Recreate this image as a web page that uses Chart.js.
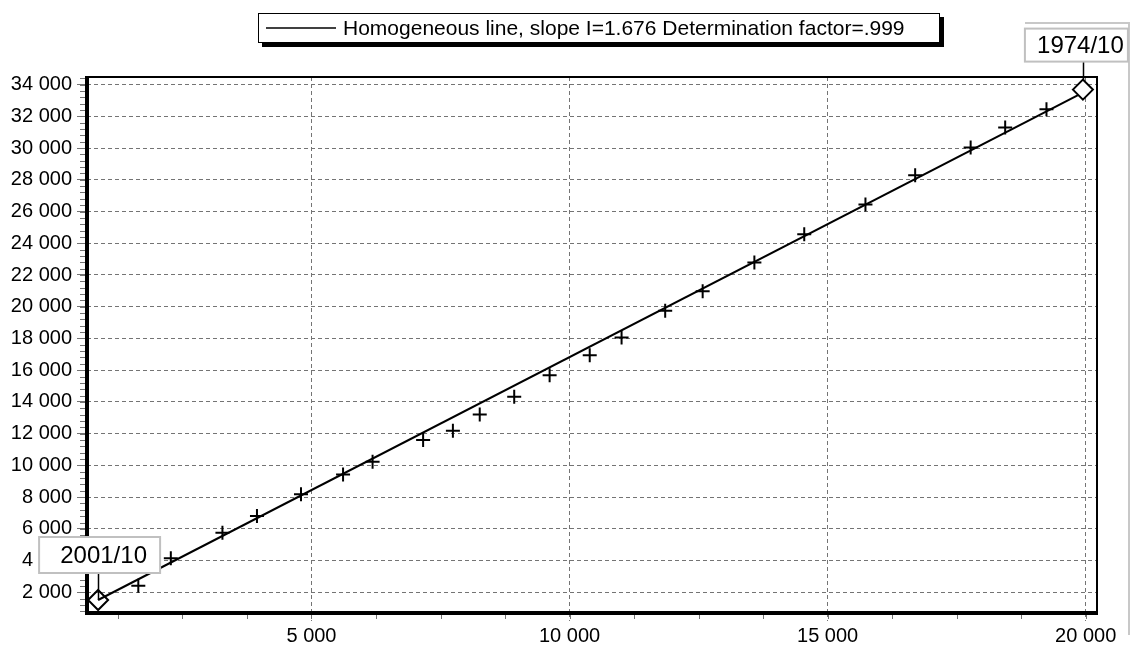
<!DOCTYPE html>
<html lang="en">
<head>
<meta charset="UTF-8">
<title>Homogeneous line</title>
<script src="https://cdn.jsdelivr.net/npm/chart.js"></script>
<style>
  html, body { margin: 0; padding: 0; background: #fff; }
</style>
</head>
<body>
<canvas id="massChart" width="1138" height="659"></canvas>
<script>
// cumulative sums: tested series (x) against reference series (y)
const cumX = [1645, 2275, 3275, 3944, 4797, 5612, 6184, 7163, 7740, 8260, 8928, 9614,
              10391, 11008, 11853, 12579, 13581, 14547, 15733, 16696, 17771, 18440, 19240];
const cumY = [2416, 4142, 5754, 6806, 8173, 9433, 10227, 11594, 12180, 13213, 14321, 15688,
              16948, 18063, 19739, 20980, 22787, 24570, 26441, 28287, 30031, 31291, 32444];

// first and last period of the series
const endLabels = ['2001/10', '1974/10'];
const endX = [866, 19946];
const endY = [1515, 33685];

const slope = 1.676;
const determination = '.999';

const xTicks = [5000, 10000, 15000, 20000];
const yTicks = [2000, 4000, 6000, 8000, 10000, 12000, 14000, 16000, 18000,
                20000, 22000, 24000, 26000, 28000, 30000, 32000, 34000];
const xMinorStep = 1250;
const yMinorStep = 400;

const FONT = '"Liberation Sans", Arial, sans-serif';
const GRID = '#747474';

function fmt(v) {
    return String(v).replace(/\B(?=(\d{3})+(?!\d))/g, ' ');
}

// homogeneous line drawn from the first point with the given slope
const lineData = [
    { x: endX[0], y: endY[0] },
    { x: endX[1], y: endY[0] + slope * (endX[1] - endX[0]) }
];

const framePlugin = {
    id: 'frame',
    beforeDatasetsDraw(chart) {
        const { ctx, chartArea: a, scales: { x, y } } = chart;
        ctx.save();
        // minor ticks
        ctx.strokeStyle = GRID;
        ctx.lineWidth = 1;
        ctx.beginPath();
        for (let v = Math.ceil(y.min / yMinorStep) * yMinorStep; v <= y.max; v += yMinorStep) {
            const py = Math.round(y.getPixelForValue(v)) + 0.5;
            ctx.moveTo(a.left - 7, py);
            ctx.lineTo(a.left, py);
        }
        for (let v = Math.ceil(x.min / xMinorStep) * xMinorStep; v <= x.max; v += xMinorStep) {
            const px = Math.round(x.getPixelForValue(v)) + 0.5;
            ctx.moveTo(px, a.bottom);
            ctx.lineTo(px, a.bottom + 6);
        }
        ctx.stroke();

        // frame: heavy left and bottom axes, thin top and right edges
        ctx.strokeStyle = '#000';
        ctx.lineWidth = 2;
        ctx.beginPath();
        ctx.moveTo(a.left, a.top);
        ctx.lineTo(a.right, a.top);
        ctx.lineTo(a.right, a.bottom);
        ctx.stroke();
        ctx.lineWidth = 4;
        ctx.beginPath();
        ctx.moveTo(a.left, a.top - 1);
        ctx.lineTo(a.left, a.bottom);
        ctx.lineTo(a.right + 1, a.bottom);
        ctx.stroke();

        // leader lines from the period labels
        ctx.lineWidth = 1.5;
        ctx.beginPath();
        for (let i = 0; i < endX.length; i++) {
            const px = Math.round(x.getPixelForValue(endX[i])) + 0.5;
            const py = y.getPixelForValue(endY[i]);
            const boxBottom = py - (i === 0 ? 27 : 28);
            ctx.moveTo(px, boxBottom);
            ctx.lineTo(px, py);
        }
        ctx.stroke();
        ctx.restore();
    },
    afterDraw(chart) {
        const { ctx, scales: { x, y } } = chart;
        ctx.save();

        // outer grey edge on the right
        ctx.strokeStyle = '#c8c8c8';
        ctx.lineWidth = 2;
        ctx.beginPath();
        ctx.moveTo(1025, 23);
        ctx.lineTo(1129, 23);
        ctx.lineTo(1129, 635);
        ctx.stroke();

        // legend with drop shadow
        const lx = 258, ly = 13, lw = 682, lh = 30;
        ctx.fillStyle = '#000';
        ctx.fillRect(lx + 4, ly + 4, lw, lh);
        ctx.fillStyle = '#fff';
        ctx.fillRect(lx, ly, lw, lh);
        ctx.strokeStyle = '#000';
        ctx.lineWidth = 1;
        ctx.strokeRect(lx + 0.5, ly + 0.5, lw - 1, lh - 1);
        ctx.lineWidth = 1.5;
        ctx.beginPath();
        ctx.moveTo(lx + 8, ly + 15);
        ctx.lineTo(lx + 78, ly + 15);
        ctx.stroke();
        ctx.fillStyle = '#000';
        ctx.font = '21px ' + FONT;
        ctx.textBaseline = 'middle';
        ctx.textAlign = 'left';
        ctx.fillText('Homogeneous line, slope I=' + slope + ' Determination factor=' + determination, lx + 85, ly + 16);

        // period labels at both ends
        ctx.font = '24px ' + FONT;
        ctx.textAlign = 'center';
        for (let i = 0; i < endX.length; i++) {
            const px = x.getPixelForValue(endX[i]);
            const py = y.getPixelForValue(endY[i]);
            const bx = i === 0 ? px - 59 : px - 58;
            const bw = i === 0 ? 121 : 103;
            const by = i === 0 ? py - 63 : py - 61;
            const bh = i === 0 ? 36 : 33;
            ctx.fillStyle = '#fff';
            ctx.fillRect(bx, by, bw, bh);
            ctx.strokeStyle = '#c0c0c0';
            ctx.lineWidth = 2;
            ctx.strokeRect(bx, by, bw, bh);
            ctx.fillStyle = '#000';
            ctx.fillText(endLabels[i], bx + bw / 2 + 4, by + bh / 2 + 1);
        }
        ctx.restore();
    }
};

new Chart(document.getElementById('massChart'), {
    type: 'scatter',
    data: {
        datasets: [
            {
                label: 'ends',
                data: endX.map((v, i) => ({ x: v, y: endY[i] })),
                pointStyle: 'rectRot',
                pointRadius: 10,
                pointBorderWidth: 2,
                pointBorderColor: '#000',
                pointBackgroundColor: ['rgba(255,255,255,0)', '#fff']
            },
            {
                label: 'cumulative',
                data: cumX.map((v, i) => ({ x: v, y: cumY[i] })),
                pointStyle: 'cross',
                pointRadius: 7,
                pointBorderWidth: 2,
                pointBorderColor: '#000'
            },
            {
                label: 'Homogeneous line',
                data: lineData,
                showLine: true,
                borderColor: '#000',
                borderWidth: 2,
                pointRadius: 0
            }
        ]
    },
    options: {
        responsive: false,
        animation: false,
        layout: { padding: { top: 77, right: 41, left: 0, bottom: 0 } },
        plugins: {
            legend: { display: false },
            tooltip: { enabled: false }
        },
        scales: {
            x: {
                type: 'linear',
                min: 651,
                max: 20219,
                afterBuildTicks: s => { s.ticks = xTicks.map(v => ({ value: v })); },
                afterFit: s => { s.height = 46; },
                grid: { color: GRID, lineWidth: 1, tickLength: 8, tickColor: GRID, tickBorderDash: [4, 3] },
                border: { display: false, dash: [4, 3] },
                ticks: {
                    color: '#000',
                    font: { family: FONT, size: 20 },
                    padding: 3,
                    maxRotation: 0,
                    callback: v => fmt(v)
                }
            },
            y: {
                type: 'linear',
                min: 696,
                max: 34479,
                afterBuildTicks: s => { s.ticks = yTicks.map(v => ({ value: v })); },
                afterFit: s => { s.width = 87; },
                grid: { color: GRID, lineWidth: 1, tickLength: 10, tickColor: GRID },
                border: { display: false, dash: [4, 3] },
                ticks: {
                    color: '#000',
                    font: { family: FONT, size: 20 },
                    padding: 5,
                    callback: v => fmt(v)
                }
            }
        }
    },
    plugins: [framePlugin]
});
</script>
</body>
</html>
